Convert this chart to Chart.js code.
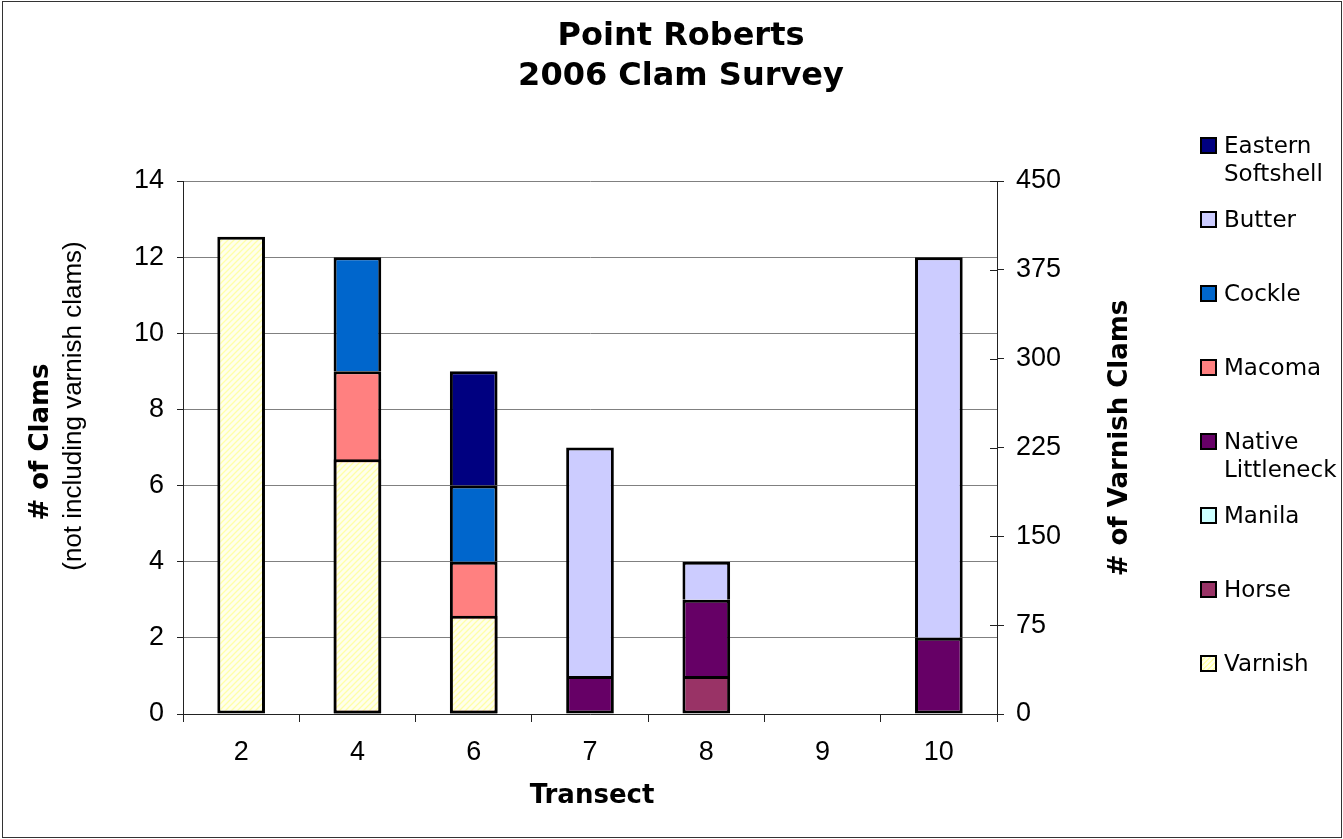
<!DOCTYPE html>
<html>
<head>
<meta charset="utf-8">
<script src="https://cdn.jsdelivr.net/npm/chart.js@4.4.1/dist/chart.umd.min.js"></script>
<style>
  body { margin: 0; background: #fff; }
  #wrap { position: relative; width: 1343px; height: 839px; }
  #frame { position: absolute; left: 2px; top: 1px; width: 1340px; height: 837px; box-sizing: border-box; border: 1px solid #333; pointer-events: none; }
  #legend { position: absolute; left: 1200px; top: 131px; font: 23px "DejaVu Sans", Verdana, sans-serif; line-height: 28px; color: #000; }
  .item { position: absolute; left: 0; white-space: nowrap; }
  .box { position: absolute; left: 0; top: 6px; width: 17px; height: 17px; box-sizing: border-box; border: 2px solid #000; }
  .txt { display: block; margin-left: 24px; }
  #preload { position: absolute; left: -9999px; font-family: "Liberation Sans"; }
</style>
</head>
<body>
<div id="wrap">
  <canvas id="clamChart" width="1343" height="839"></canvas>
  <div id="frame"></div>
  <div id="legend"></div>
</div>
<span id="preload">0123456789 (not including varnish clams)</span>
<script>
// transects surveyed
const transects = ['2', '4', '6', '7', '8', '9', '10'];

// clam counts per transect (left axis)
const horse            = [0, 0, 0, 0, 1, 0, 0];
const manila           = [0, 0, 0, 0, 0, 0, 0];
const nativeLittleneck = [0, 0, 0, 1, 2, 0, 2];
const macoma           = [0, 9, 4, 0, 0, 0, 0];
const cockle           = [0, 3, 2, 0, 0, 0, 0];
const butter           = [0, 0, 0, 6, 1, 0, 10];
const easternSoftshell = [0, 0, 3, 0, 0, 0, 0];

// varnish clams (right axis)
const varnish = [403, 215, 83, 0, 0, 0, 0];

// hatched fill for the varnish bars
function varnishPattern() {
  const c = document.createElement('canvas');
  c.width = 6; c.height = 6;
  const g = c.getContext('2d');
  g.fillStyle = '#FFFFEC';
  g.fillRect(0, 0, 6, 6);
  g.strokeStyle = '#FFFFA8';
  g.lineWidth = 1.3;
  g.beginPath();
  g.moveTo(0, 6); g.lineTo(6, 0);
  g.moveTo(-3, 3); g.lineTo(3, -3);
  g.moveTo(3, 9); g.lineTo(9, 3);
  g.stroke();
  return g.createPattern(c, 'repeat');
}

const tickFont = { family: '"Liberation Sans", Arial, sans-serif', size: 27 };

// titles drawn straight onto the canvas
const textLayer = {
  id: 'textLayer',
  afterDraw(chart) {
    const c = chart.ctx;
    c.save();
    c.fillStyle = '#000';
    c.textAlign = 'center';
    c.textBaseline = 'middle';
    c.font = 'bold 32px "DejaVu Sans", Verdana, sans-serif';
    c.fillText('Point Roberts', 681, 37);
    c.fillText('2006 Clam Survey', 681, 77);

    c.font = 'bold 26px "DejaVu Sans", Verdana, sans-serif';
    c.fillText('Transect', 592, 796);

    c.save();
    c.translate(41, 442);
    c.rotate(-Math.PI / 2);
    c.fillText('# of Clams', 0, 0);
    c.restore();

    c.save();
    c.translate(74, 406);
    c.rotate(-Math.PI / 2);
    c.font = '26px "Liberation Sans", Arial, sans-serif';
    c.fillText('(not including varnish clams)', 0, 0);
    c.restore();

    c.save();
    c.translate(1120, 438);
    c.rotate(-Math.PI / 2);
    c.fillText('# of Varnish Clams', 0, 0);
    c.restore();

    // right axis tick marks cross the axis line
    const y1 = chart.scales.y1;
    c.strokeStyle = '#222';
    c.lineWidth = 1;
    y1.ticks.forEach(t => {
      const py = Math.round(y1.getPixelForValue(t.value)) + 0.5;
      c.beginPath();
      c.moveTo(y1.left - 7, py);
      c.lineTo(y1.left, py);
      c.stroke();
    });
    c.restore();
  }
};

const series = [
  { label: 'Horse', data: horse, color: '#993366' },
  { label: 'Manila', data: manila, color: '#CCFFFF' },
  { label: 'Native Littleneck', data: nativeLittleneck, color: '#660066' },
  { label: 'Macoma', data: macoma, color: '#FF8080' },
  { label: 'Cockle', data: cockle, color: '#0066CC' },
  { label: 'Butter', data: butter, color: '#CCCCFF' },
  { label: 'Eastern Softshell', data: easternSoftshell, color: '#000080' }
];

// only draw one line where two stacked pieces meet
function skipJoin(ctx) {
  for (let k = 0; k < ctx.datasetIndex && k < series.length; k++) {
    if (series[k].data[ctx.dataIndex] > 0) return 'start';
  }
  return false;
}

function drawChart() {
  const ctx = document.getElementById('clamChart').getContext('2d');

  const datasets = series.map(s => ({
    label: s.label,
    data: s.data,
    backgroundColor: s.color,
    borderSkipped: skipJoin,
    yAxisID: 'y'
  }));
  datasets.push({
    label: 'Varnish',
    data: varnish,
    backgroundColor: varnishPattern(),
    borderSkipped: false,
    yAxisID: 'y1',
    order: -1
  });

  return new Chart(ctx, {
    type: 'bar',
    data: { labels: transects, datasets: datasets },
    options: {
      responsive: false,
      animation: false,
      devicePixelRatio: 1,
      layout: { padding: { top: 181, left: 0, right: 0, bottom: 0 } },
      datasets: {
        bar: {
          grouped: false,
          barPercentage: 0.41,
          categoryPercentage: 1,
          borderColor: '#000',
          borderWidth: 3
        }
      },
      plugins: {
        legend: { display: false },
        tooltip: { enabled: false }
      },
      scales: {
        x: {
          stacked: true,
          grid: { offset: true, drawOnChartArea: false, tickLength: 8, tickColor: '#222' },
          border: { color: '#222' },
          ticks: { font: tickFont, color: '#000', padding: 14 },
          afterFit(s) { s.height = 125; }
        },
        y: {
          stacked: true,
          position: 'left',
          min: 0,
          max: 14,
          ticks: { stepSize: 2, font: tickFont, color: '#000', padding: 13 },
          grid: { color: '#808080', tickLength: 6, tickColor: '#222' },
          border: { color: '#222' },
          afterFit(s) { s.width = 183; }
        },
        y1: {
          stacked: true,
          position: 'right',
          min: 0,
          max: 450,
          ticks: { stepSize: 75, font: tickFont, color: '#000', padding: 12 },
          grid: { drawOnChartArea: false, tickLength: 7, tickColor: '#222' },
          border: { color: '#222' },
          afterFit(s) { s.width = 346; }
        }
      }
    },
    plugins: [textLayer]
  });
}

// legend on the right, top of the stack first, varnish last
const legendItems = [
  { name: ['Eastern', 'Softshell'], color: '#000080' },
  { name: ['Butter'], color: '#CCCCFF' },
  { name: ['Cockle'], color: '#0066CC' },
  { name: ['Macoma'], color: '#FF8080' },
  { name: ['Native', 'Littleneck'], color: '#660066' },
  { name: ['Manila'], color: '#CCFFFF' },
  { name: ['Horse'], color: '#993366' },
  { name: ['Varnish'], color: 'repeating-linear-gradient(135deg, #FFFFEC 0 2px, #FFFFA8 2px 3.5px)' }
];
const legend = document.getElementById('legend');
legendItems.forEach((it, i) => {
  const d = document.createElement('div');
  d.className = 'item';
  d.style.top = (i * 74) + 'px';
  const b = document.createElement('span');
  b.className = 'box';
  b.style.background = it.color;
  d.appendChild(b);
  it.name.forEach(line => {
    const t = document.createElement('span');
    t.className = 'txt';
    t.textContent = line;
    d.appendChild(t);
  });
  legend.appendChild(d);
});

let clamChart = drawChart();
</script>
</body>
</html>
